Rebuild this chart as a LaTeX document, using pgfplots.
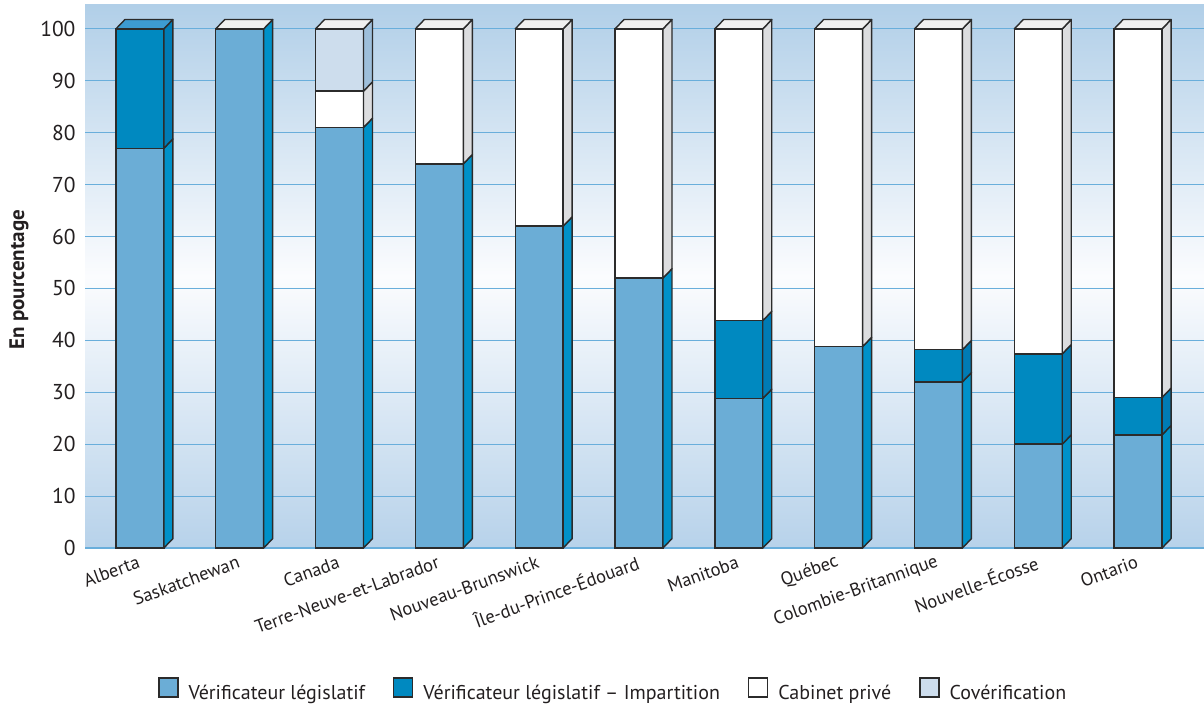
\documentclass[border=0pt]{standalone}
\usepackage{pgfplots}
\pgfplotsset{compat=1.18}
\usepackage{pgfplotstable}
\usepackage{fontspec}
\setmainfont{PT Sans}
\definecolor{vlc}{HTML}{6BADD6}
\definecolor{vls}{HTML}{0091C9}
\definecolor{impc}{HTML}{0089C0}
\definecolor{imps}{HTML}{007BB5}
\definecolor{impt}{HTML}{3D9BD1}
\definecolor{cpc}{HTML}{FFFFFF}
\definecolor{cps}{HTML}{DCDDDF}
\definecolor{covc}{HTML}{CDDDED}
\definecolor{covs}{HTML}{9EBFDB}
\definecolor{topc}{HTML}{F0F0F0}
\definecolor{outl}{HTML}{2B2B2B}
\definecolor{bgtop}{HTML}{B1CFE8}
\definecolor{bgmid}{HTML}{FBFCFE}
\definecolor{bgbot}{HTML}{B7D2EA}
\definecolor{gridc}{HTML}{69AEDB}
\definecolor{txt}{HTML}{231F20}
\pgfplotstableread{
x a b c d t
0 77 23 0 0 1
1 100 0 0 0 0
2 81 0 7 12 0
3 74 0 26 0 0
4 62 0 38 0 0
5 52 0 48 0 0
6 28.8 15 56.2 0 0
7 38.8 0 61.2 0 0
8 32 6.2 61.8 0 0
9 20 17.4 62.6 0 0
10 21.8 7.2 71 0 0
}\datatable
\newcommand\sideface[3]{%
  \ifdim #3pt>#2pt
    \pgfmathsetmacro\ylo{#2+1.8}%
    \pgfmathsetmacro\yhi{#3+1.8}%
    \edef\tmp{\noexpand\addplot[forget plot, fill=#1, draw=outl, line width=1.4pt, line join=round] coordinates {(\xr,#2) (\xrr,\ylo) (\xrr,\yhi) (\xr,#3)} -- cycle;}%
    \tmp
  \fi}
\pgfplotsset{mybar/.style={ybar, bar width=0.48, bar shift=0pt, draw=outl, line width=1.4pt,
  legend image code/.code={\draw[##1, line width=1.4pt] (0pt,-4pt) rectangle (19pt,15pt);}}}
\begin{document}
\begin{tikzpicture}
\begin{axis}[
  scale only axis, width=1119pt, height=543pt,
  xmin=-0.55, xmax=10.66, ymin=0, ymax=104.6,
  axis line style={draw=none}, major tick length=0pt,
  ytick={0,10,...,100}, ymajorgrids, grid style={color=gridc, line width=1.1pt},
  xtick={0,...,10},
  xticklabels={Alberta, Saskatchewan, Canada, Terre-Neuve-et-Labrador, Nouveau-Brunswick, Île-du-Prince-Édouard, Manitoba, Québec, Colombie-Britannique, Nouvelle-Écosse, Ontario},
  xticklabel style={font=\fontsize{18.5}{21}\selectfont, text=txt, yshift=-13pt, rotate=20, anchor=east, inner sep=1pt},
  yticklabel style={font=\fontsize{21.5}{24}\selectfont, text=txt, xshift=-6pt},
  /pgf/number format/assume math mode=true,
  ylabel={En pourcentage},
  ylabel style={font=\fontsize{21}{24}\selectfont\bfseries, text=txt, at={(axis description cs:-0.059,0.494)}, anchor=center},
  axis background/.style={top color=bgtop, bottom color=bgbot, middle color=bgmid},
  legend columns=4, reverse legend,
  legend style={at={(axis description cs:0.472,-0.2615)}, anchor=center, draw=none, fill=none,
    font=\fontsize{20}{23}\selectfont, text=txt,
    /tikz/every odd column/.append style={column sep=8pt},
    /tikz/every even column/.append style={column sep=26pt}},
]
\addplot[mybar, fill=covc] table[x=x, y expr=\thisrow{a}+\thisrow{b}+\thisrow{c}+\thisrow{d}] {\datatable};
\addlegendentry{Covérification}
\addplot[mybar, fill=cpc] table[x=x, y expr=\thisrow{a}+\thisrow{b}+\thisrow{c}] {\datatable};
\addlegendentry{Cabinet privé}
\addplot[mybar, fill=impc] table[x=x, y expr=\thisrow{a}+\thisrow{b}] {\datatable};
\addlegendentry{Vérificateur législatif – Impartition}
\addplot[mybar, fill=vlc] table[x=x, y=a] {\datatable};
\addlegendentry{Vérificateur législatif}
\pgfplotsinvokeforeach{0,...,10}{
  \pgfplotstablegetelem{#1}{a}\of\datatable \pgfmathsetmacro\ya{\pgfplotsretval}
  \pgfplotstablegetelem{#1}{b}\of\datatable \pgfmathsetmacro\yb{\ya+\pgfplotsretval}
  \pgfplotstablegetelem{#1}{c}\of\datatable \pgfmathsetmacro\yc{\yb+\pgfplotsretval}
  \pgfplotstablegetelem{#1}{d}\of\datatable \pgfmathsetmacro\yd{\yc+\pgfplotsretval}
  \pgfplotstablegetelem{#1}{t}\of\datatable \edef\toptype{\pgfplotsretval}
  \pgfmathsetmacro\xr{#1+0.24}
  \pgfmathsetmacro\xrr{#1+0.33}
  \pgfmathsetmacro\xl{#1-0.24}
  \pgfmathsetmacro\xll{#1-0.15}
  \pgfmathsetmacro\ytop{\yd+1.8}
  \sideface{vls}{0}{\ya}
  \sideface{imps}{\ya}{\yb}
  \sideface{cps}{\yb}{\yc}
  \sideface{covs}{\yc}{\yd}
  \ifnum\toptype=1 \def\topcol{impt}\else\def\topcol{topc}\fi
  \edef\tmp{\noexpand\addplot[forget plot, fill=\topcol, draw=outl, line width=1.4pt, line join=round] coordinates {(\xl,\yd) (\xll,\ytop) (\xrr,\ytop) (\xr,\yd)} -- cycle;}%
  \tmp
}
\end{axis}
\pgfresetboundingbox
\path[use as bounding box] ([xshift=-85pt,yshift=-157pt]current axis.south west) rectangle ([yshift=5pt]current axis.north east);
\end{tikzpicture}
\end{document}
